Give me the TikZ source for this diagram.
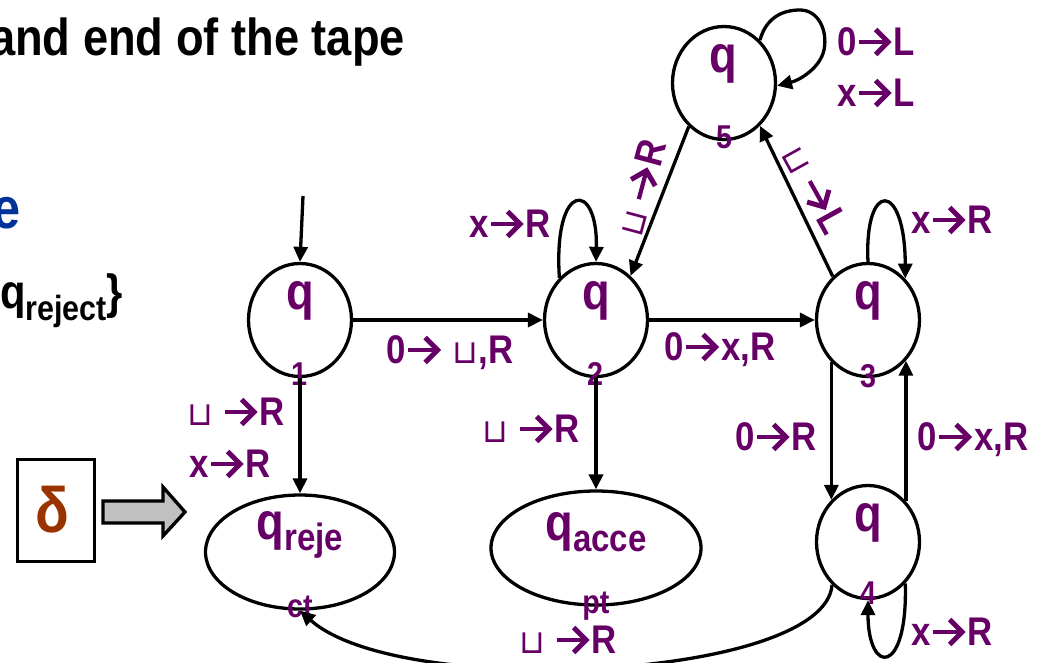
\documentclass[tikz,border=0pt]{standalone}
\usepackage{fontspec}
\setmainfont{Liberation Sans}[FakeStretch=0.87]
\newfontfamily\symfont{DejaVu Sans}
\usetikzlibrary{arrows.meta,shapes.geometric}

\definecolor{stpurple}{RGB}{102,0,102}
\definecolor{deltabrown}{RGB}{153,51,0}
\definecolor{setblue}{RGB}{0,51,153}
\definecolor{arrowgray}{RGB}{192,192,192}

% blank tape symbol and the bold chevron move arrow used in transition labels
\newcommand\blank{{\symfont\mdseries\fontsize{33}{33}\selectfont ⊔}}
\newcommand\rto{\tikz[baseline=0pt,x=1pt,y=1pt]{%
  \useasboundingbox (-2,0) rectangle (35,27);
  \draw[stpurple, line width=4.2pt] (0,13) -- (29,13);
  \draw[stpurple, line width=5pt, line join=miter, miter limit=10] (17,25.5) -- (29.5,13) -- (17,0.5);}}

\tikzset{
  state/.style={ellipse, draw, line width=3.3pt, minimum width=103pt, minimum height=113pt, inner sep=0pt},
  halt/.style={ellipse, draw, line width=3.3pt, inner sep=0pt},
  edge/.style={line width=3.3pt, -{Triangle[length=15pt,width=14pt]}},
  lab/.style={text=stpurple, font=\fontsize{40}{42}\selectfont\bfseries, inner sep=0pt, anchor=base},
  qtxt/.style={text=stpurple, font=\fontsize{52}{52}\selectfont\bfseries, inner sep=0pt, anchor=base},
  idx/.style={text=stpurple, font=\fontsize{33}{33}\selectfont\bfseries, inner sep=0pt, anchor=base},
}

\begin{document}
\begin{tikzpicture}[x=1pt,y=-1pt]
\useasboundingbox (0,0) rectangle (1045,662);
\clip (0,0) rectangle (1045,662);

% text on the left
\node[anchor=base west, font=\fontsize{52}{52}\selectfont\bfseries, inner sep=0pt] (title) at (-10,55) {and end of the tape};
\node[anchor=base west, text=setblue, font=\fontsize{58}{58}\selectfont\bfseries, inner sep=0pt] (setword) at (-8,228) {e};
\node[anchor=base west, font=\fontsize{48}{48}\selectfont\bfseries, inner sep=0pt] (qrejset) at (0,308)
  {q{\fontsize{35}{35}\selectfont\raisebox{-12pt}{reject}}\}};

% transition function box and block arrow
\node[draw, line width=3.8pt, minimum width=77pt, minimum height=102pt, inner sep=0pt] (dbox) at (56,510.5) {};
\node[text=deltabrown, font=\fontsize{64}{64}\selectfont\bfseries, inner sep=0pt] (delta) at (52,510) {δ};
\draw[line width=3.3pt, fill=arrowgray, line join=miter]
  (103,501) -- (163,501) -- (163,487) -- (185,512) -- (163,536) -- (163,523) -- (103,523) -- cycle;

% states
\node[state] (q1) at (300,320) {};
\node[state] (q2) at (596,320) {};
\node[state] (q3) at (868,320) {};
\node[state] (q4) at (868,542) {};
\node[state] (q5) at (724,83) {};
\node[halt, minimum width=189pt, minimum height=114pt] (qrej) at (300,552) {};
\node[halt, minimum width=210pt, minimum height=114pt] (qacc) at (596,548) {};

% state names
\node[qtxt] (q1q) at (300,309) {q}; \node[idx] (q1i) at (299,385) {1};
\node[qtxt] (q2q) at (596,309) {q}; \node[idx] (q2i) at (595,385) {2};
\node[qtxt] (q3q) at (868,309) {q}; \node[idx] (q3i) at (868,387) {3};
\node[qtxt] (q4q) at (868,531) {q}; \node[idx] (q4i) at (868,604) {4};
\node[qtxt] (q5q) at (723,72) {q};  \node[idx] (q5i) at (724,148) {5};
\node[qtxt] (qrejq) at (300,539) {q{\fontsize{38}{38}\selectfont\raisebox{-11pt}{reje}}};
\node[idx] (qrejb) at (300,617) {ct};
\node[qtxt] (qaccq) at (596,540) {q{\fontsize{38}{38}\selectfont\raisebox{-11pt}{acce}}};
\node[idx] (qaccb) at (596,613) {pt};

% transitions
\coordinate (init) at (303,196);
\draw[edge] (init) -- (q1.north);
\draw[edge] (q1.east) -- (q2.west);
\draw[edge] (q2.east) -- (q3.west);
\draw[edge] (q1.south) -- (qrej.north);
\draw[edge] (q2.south) -- (qacc.north);
\draw[edge] (q3.229) -- (q4.131);
\draw[edge] (q4.47) -- (q3.313);
\draw[edge] (q5.231) -- (q2.52);
\draw[edge] (q3.129) -- (q5.310);
\draw[edge] (q2.131) .. controls (553,180) and (598,180) .. (q2.north);
\draw[edge] (q3.north) .. controls (864,180) and (905,180) .. (q3.48);
\draw[edge] (q4.312) .. controls (908,676) and (868,676) .. (q4.south);
\draw[edge] (q5.50) .. controls (766,18) and (782,10) .. (800,10)
  .. controls (818,10) and (828,30) .. (824,50)
  .. controls (820,68) and (800,80) .. (q5.-3);
\draw[edge] (q4.230) .. controls (825,680) and (400,700) .. (qrej.south);

% transition labels
\node[lab] (l12) at (450,363) {0\rto\ \blank,R};
\node[lab] (l23) at (720,360) {0\rto x,R};
\node[lab] (l22) at (510,237) {x\rto R};
\node[lab] (l33) at (952,233) {x\rto R};
\node[lab] (l55a) at (876,55) {0\rto L};
\node[lab] (l55b) at (876,106) {x\rto L};
\node[lab] (l1ra) at (236,425) {\blank\ \rto R};
\node[lab] (l1rb) at (230,477) {x\rto R};
\node[lab] (l2a) at (531,442) {\blank\ \rto R};
\node[lab] (l34) at (776,450) {0\rto R};
\node[lab] (l43) at (973,450) {0\rto x,R};
\node[lab] (l44) at (952,645) {x\rto R};
\node[lab] (l4r) at (568,653) {\blank\ \rto R};
\node[lab, anchor=center, rotate=75] (l52) at (641,188) {\blank\ \rto R};
\node[lab, anchor=center, rotate=-61] (l35) at (815,189) {\blank\ \rto L};
\end{tikzpicture}
\end{document}
